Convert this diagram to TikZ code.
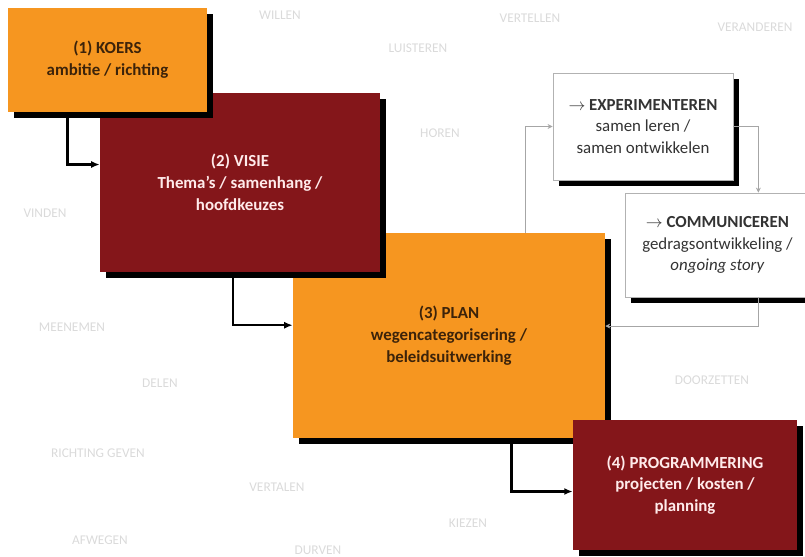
\documentclass[tikz,border=0pt]{standalone}
\usepackage{fontspec}
\setmainfont{Carlito}
\usetikzlibrary{calc}
\usetikzlibrary{shadows}
\usetikzlibrary{arrows.meta}
\definecolor{koersoranje}{RGB}{246,150,32}
\definecolor{visierood}{RGB}{132,22,26}
\definecolor{tekstbruin}{RGB}{60,35,10}
\definecolor{woordgrijs}{RGB}{218,218,218}
\newcommand{\bgwoord}[4]{\node[bgwoord] (#1) at ( #2 , #3 ) {#4};}
\tikzset{
  stap/.style={rectangle, inner sep=2pt, align=center,
    font=\fontsize{12}{15.5}\selectfont,
    drop shadow={shadow xshift=0.14cm, shadow yshift=-0.14cm, fill=black, opacity=1}},
  oranjestap/.style={stap, fill=koersoranje, text=tekstbruin, font=\fontsize{12}{15.5}\selectfont\bfseries},
  roodstap/.style={stap, fill=visierood, text=white!92!red, font=\fontsize{12}{15.5}\selectfont\bfseries},
  witstap/.style={stap, fill=white, draw=gray!60, line width=0.6pt, text=black!80},
  bgwoord/.style={text=woordgrijs, font=\fontsize{9.5}{11}\selectfont},
  pijl/.style={line width=1.7pt, -{Latex[length=6pt,width=5pt]}},
  lus/.style={draw=gray!70, line width=0.6pt, -{Stealth[length=3.5pt,width=3.5pt]}}
}

\begin{document}
\begin{tikzpicture}[x=0.025cm, y=-0.025cm]
  \useasboundingbox (0,0) rectangle (805,557);
  % background words
  \bgwoord{willen}{280}{15}{WILLEN}
  \bgwoord{luisteren}{418}{48}{LUISTEREN}
  \bgwoord{vertellen}{530}{18}{VERTELLEN}
  \bgwoord{veranderen}{755}{27}{VERANDEREN}
  \bgwoord{horen}{440}{133}{HOREN}
  \bgwoord{vinden}{45}{213}{VINDEN}
  \bgwoord{meenemen}{72}{327}{MEENEMEN}
  \bgwoord{delen}{160}{383}{DELEN}
  \bgwoord{doorzetten}{712}{380}{DOORZETTEN}
  \bgwoord{richting}{98}{453}{RICHTING GEVEN}
  \bgwoord{vertalen}{277}{487}{VERTALEN}
  \bgwoord{kiezen}{468}{523}{KIEZEN}
  \bgwoord{afwegen}{100}{540}{AFWEGEN}
  \bgwoord{durven}{318}{550}{DURVEN}
  % steps
  \node[oranjestap, minimum width=7.8cm, minimum height=5.125cm] (plan) at (449,335.5)
    {(3) PLAN\\wegencategorisering /\\beleidsuitwerking};
  \node[roodstap, minimum width=5.6cm, minimum height=3.25cm] (prog) at (685,485)
    {(4) PROGRAMMERING\\projecten / kosten /\\planning};
  \node[roodstap, minimum width=7cm, minimum height=4.475cm] (visie) at (240,182.5)
    {(2) VISIE\\Thema’s / samenhang /\\hoofdkeuzes};
  \node[oranjestap, minimum width=4.975cm, minimum height=2.6cm] (koers) at (107.5,60)
    {(1) KOERS\\ambitie / richting};
  % side loop
  \node[witstap, minimum width=4.5cm, minimum height=2.675cm] (exper) at (643,126.5)
    {$\rightarrow$ \textbf{EXPERIMENTEREN}\\samen leren /\\samen ontwikkelen};
  \node[witstap, minimum width=4.625cm, minimum height=2.6cm] (comm) at (717.5,245)
    {$\rightarrow$ \textbf{COMMUNICEREN}\\gedragsontwikkeling /\\\textit{ongoing story}};
  % arrows
  \draw[pijl] ($(koers.south west)!0.3!(koers.south east)$)
    |- ($(visie.north west)!0.4!(visie.south west)$);
  \draw[pijl] ($(visie.south west)!0.475!(visie.south east)$)
    |- ($(plan.north west)!0.45!(plan.south west)$);
  \draw[pijl] ($(plan.south west)!0.7!(plan.south east)$)
    |- ($(prog.north west)!0.55!(prog.south west)$);
  \draw[lus] ($(plan.north west)!0.744!(plan.north east)$) |- (exper.west);
  \draw[lus] (exper.east) -| ($(comm.north west)!0.72!(comm.north east)$);
  \draw[lus] ($(comm.south west)!0.72!(comm.south east)$)
    |- ($(plan.north east)!0.454!(plan.south east)$);
\end{tikzpicture}
\end{document}
